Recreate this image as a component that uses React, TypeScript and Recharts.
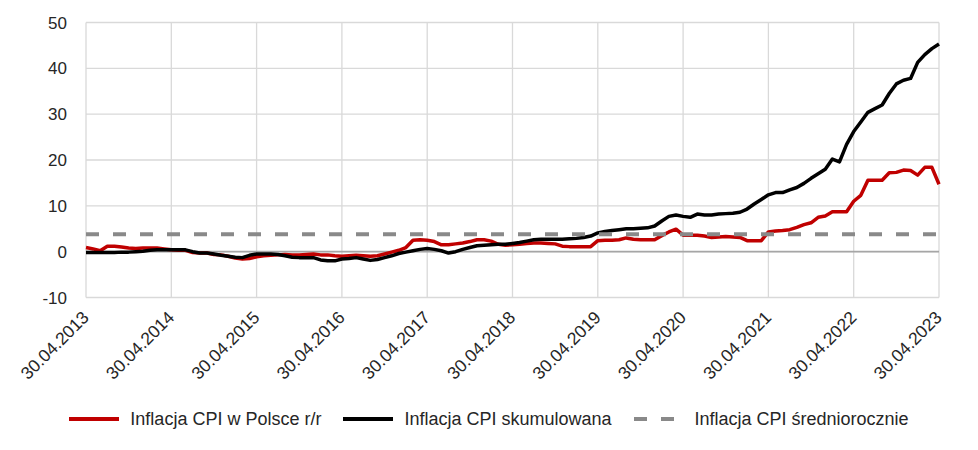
import React from "react";
import { LineChart, Line, XAxis, YAxis, CartesianGrid, ReferenceLine } from "recharts";

// Year tick labels (one every 12 monthly points, starting 30.04.2013)
const tickLabels = [
  "30.04.2013", "30.04.2014", "30.04.2015", "30.04.2016", "30.04.2017", "30.04.2018",
  "30.04.2019", "30.04.2020", "30.04.2021", "30.04.2022", "30.04.2023",
];

// Inflacja CPI w Polsce r/r (monthly, Apr 2013 – Apr 2023)
const cpiYoY = [
  // 2013 Apr-Dec
  0.9, 0.6, 0.2, 1.2, 1.2, 1.0, 0.8, 0.7, 0.8,
  // 2014
  0.8, 0.8, 0.6, 0.4, 0.3, 0.3, -0.2, -0.3, -0.3, -0.6, -0.7, -1.0,
  // 2015
  -1.4, -1.6, -1.5, -1.1, -0.9, -0.8, -0.7, -0.6, -0.7, -0.7, -0.6, -0.5,
  // 2016
  -0.7, -0.7, -0.9, -1.0, -0.9, -0.8, -0.9, -1.0, -0.9, -0.5, -0.1, 0.3,
  // 2017
  0.9, 2.5, 2.6, 2.5, 2.2, 1.5, 1.5, 1.7, 1.9, 2.2, 2.6, 2.6,
  // 2018
  2.3, 1.6, 1.4, 1.5, 1.6, 1.8, 1.9, 1.9, 1.8, 1.7, 1.2, 1.1,
  // 2019
  1.1, 1.1, 1.1, 2.4, 2.5, 2.5, 2.6, 3.0, 2.7, 2.6, 2.6, 2.6,
  // 2020
  3.5, 4.3, 4.9, 3.6, 3.6, 3.6, 3.4, 3.1, 3.2, 3.3, 3.2, 3.1,
  // 2021
  2.4, 2.4, 2.4, 4.3, 4.5, 4.6, 4.8, 5.3, 5.9, 6.3, 7.5, 7.8,
  // 2022
  8.7, 8.7, 8.7, 11.0, 12.3, 15.6, 15.6, 15.6, 17.2, 17.3, 17.8, 17.7,
  // 2023 Jan-Apr
  16.7, 18.4, 18.4, 14.7,
];

// Inflacja CPI skumulowana (monthly, Apr 2013 – Apr 2023)
const cpiCumulative = [
  // 2013 Apr-Dec
  -0.2, -0.2, -0.2, -0.2, -0.2, -0.1, -0.1, 0.0, 0.1,
  // 2014
  0.3, 0.4, 0.4, 0.4, 0.4, 0.4, 0.0, -0.3, -0.3, -0.5, -0.8, -1.0,
  // 2015
  -1.2, -1.3, -0.8, -0.5, -0.5, -0.5, -0.6, -0.9, -1.2, -1.3, -1.3, -1.3,
  // 2016
  -1.8, -2.0, -2.0, -1.6, -1.5, -1.3, -1.6, -1.9, -1.7, -1.3, -0.9, -0.4,
  // 2017
  -0.1, 0.2, 0.5, 0.7, 0.5, 0.2, -0.3, 0.0, 0.5, 0.9, 1.3, 1.4,
  // 2018
  1.5, 1.6, 1.6, 1.8, 2.0, 2.3, 2.6, 2.7, 2.7, 2.7, 2.7, 2.8,
  // 2019
  2.9, 3.1, 3.4, 4.1, 4.4, 4.6, 4.8, 5.0, 5.0, 5.1, 5.2, 5.6,
  // 2020
  6.7, 7.7, 8.0, 7.7, 7.5, 8.2, 8.0, 8.0, 8.2, 8.3, 8.4, 8.6,
  // 2021
  9.3, 10.4, 11.4, 12.4, 12.9, 12.9, 13.5, 14.0, 14.9, 16.0, 17.0, 18.0,
  // 2022
  20.2, 19.6, 23.4, 26.2, 28.3, 30.4, 31.2, 32.0, 34.5, 36.6, 37.4, 37.8,
  // 2023 Jan-Apr
  41.3, 43.0, 44.3, 45.3,
];

// Inflacja CPI średniorocznie
const cpiAverage = 3.8;

const yTicks = [-10, 0, 10, 20, 30, 40, 50];

const FONT = "'Liberation Sans', Arial, sans-serif";
const TEXT = "#262626";
const RED = "#C00000";
const BLACK = "#000000";
const GRAY = "#898989";

const data = cpiYoY.map((v, i) => ({
  m: i,
  yoy: v,
  cum: cpiCumulative[i],
  avg: cpiAverage,
}));

const xTicks = tickLabels.map((_, k) => k * 12);

const XTick = (props: any) => {
  const { x, y, payload } = props;
  const label = tickLabels[Math.round(payload.value / 12)];
  return (
    <text
      x={0}
      y={0}
      transform={`translate(${x + 4},${y + 21}) rotate(-45)`}
      textAnchor="end"
      fontSize={17.5}
      fontFamily={FONT}
      fill={TEXT}
    >
      {label}
    </text>
  );
};

const LegendItem = ({ kind, label }: { kind: "red" | "black" | "dash"; label: string }) => (
  <div style={{ display: "flex", alignItems: "center", marginRight: 22 }}>
    <svg width={50} height={10} style={{ marginRight: 11 }}>
      {kind === "dash" ? (
        <line x1={0} y1={5} x2={50} y2={5} stroke={GRAY} strokeWidth={4} strokeDasharray="13 14" />
      ) : (
        <line x1={0} y1={5} x2={50} y2={5} stroke={kind === "red" ? RED : BLACK} strokeWidth={4} />
      )}
    </svg>
    <span style={{ whiteSpace: "nowrap" }}>{label}</span>
  </div>
);

export default function App() {
  return (
    <div style={{ position: "relative", width: 962, height: 434, fontFamily: FONT }}>
      <LineChart
        width={962}
        height={400}
        data={data}
        margin={{ top: 14.5, right: 31, bottom: 0, left: 0 }}
      >
        <CartesianGrid stroke="#d9d9d9" strokeWidth={1.3} />
        <XAxis
          dataKey="m"
          type="number"
          domain={[0, 120]}
          ticks={xTicks}
          interval={0}
          axisLine={false}
          tickLine={false}
          tickSize={0}
          tickMargin={0}
          height={110.5}
          tick={<XTick />}
        />
        <YAxis
          type="number"
          domain={[-10, 50]}
          ticks={yTicks}
          interval={0}
          axisLine={false}
          tickLine={false}
          tickSize={17}
          tickMargin={2}
          width={78}
          tick={{ fontSize: 17, fill: TEXT, fontFamily: FONT }}
        />
        <ReferenceLine y={0} stroke="#a6a6a6" strokeWidth={1.6} />
        <Line
          dataKey="yoy"
          stroke={RED}
          strokeWidth={3.5}
          dot={false}
          isAnimationActive={false}
          strokeLinejoin="round"
        />
        <Line
          dataKey="cum"
          stroke={BLACK}
          strokeWidth={3.5}
          dot={false}
          isAnimationActive={false}
          strokeLinejoin="round"
        />
        <Line
          dataKey="avg"
          stroke={GRAY}
          strokeWidth={4}
          strokeDasharray="13 14"
          dot={false}
          isAnimationActive={false}
        />
      </LineChart>
      <div
        style={{
          position: "absolute",
          top: 401,
          left: 0,
          width: 962,
          height: 20,
          display: "flex",
          justifyContent: "center",
          alignItems: "center",
          fontSize: 18,
          color: TEXT,
          paddingLeft: 22,
          boxSizing: "border-box",
        }}
      >
        <LegendItem kind="red" label="Inflacja CPI w Polsce r/r" />
        <LegendItem kind="black" label="Inflacja CPI skumulowana" />
        <LegendItem kind="dash" label="Inflacja CPI średniorocznie" />
      </div>
    </div>
  );
}
